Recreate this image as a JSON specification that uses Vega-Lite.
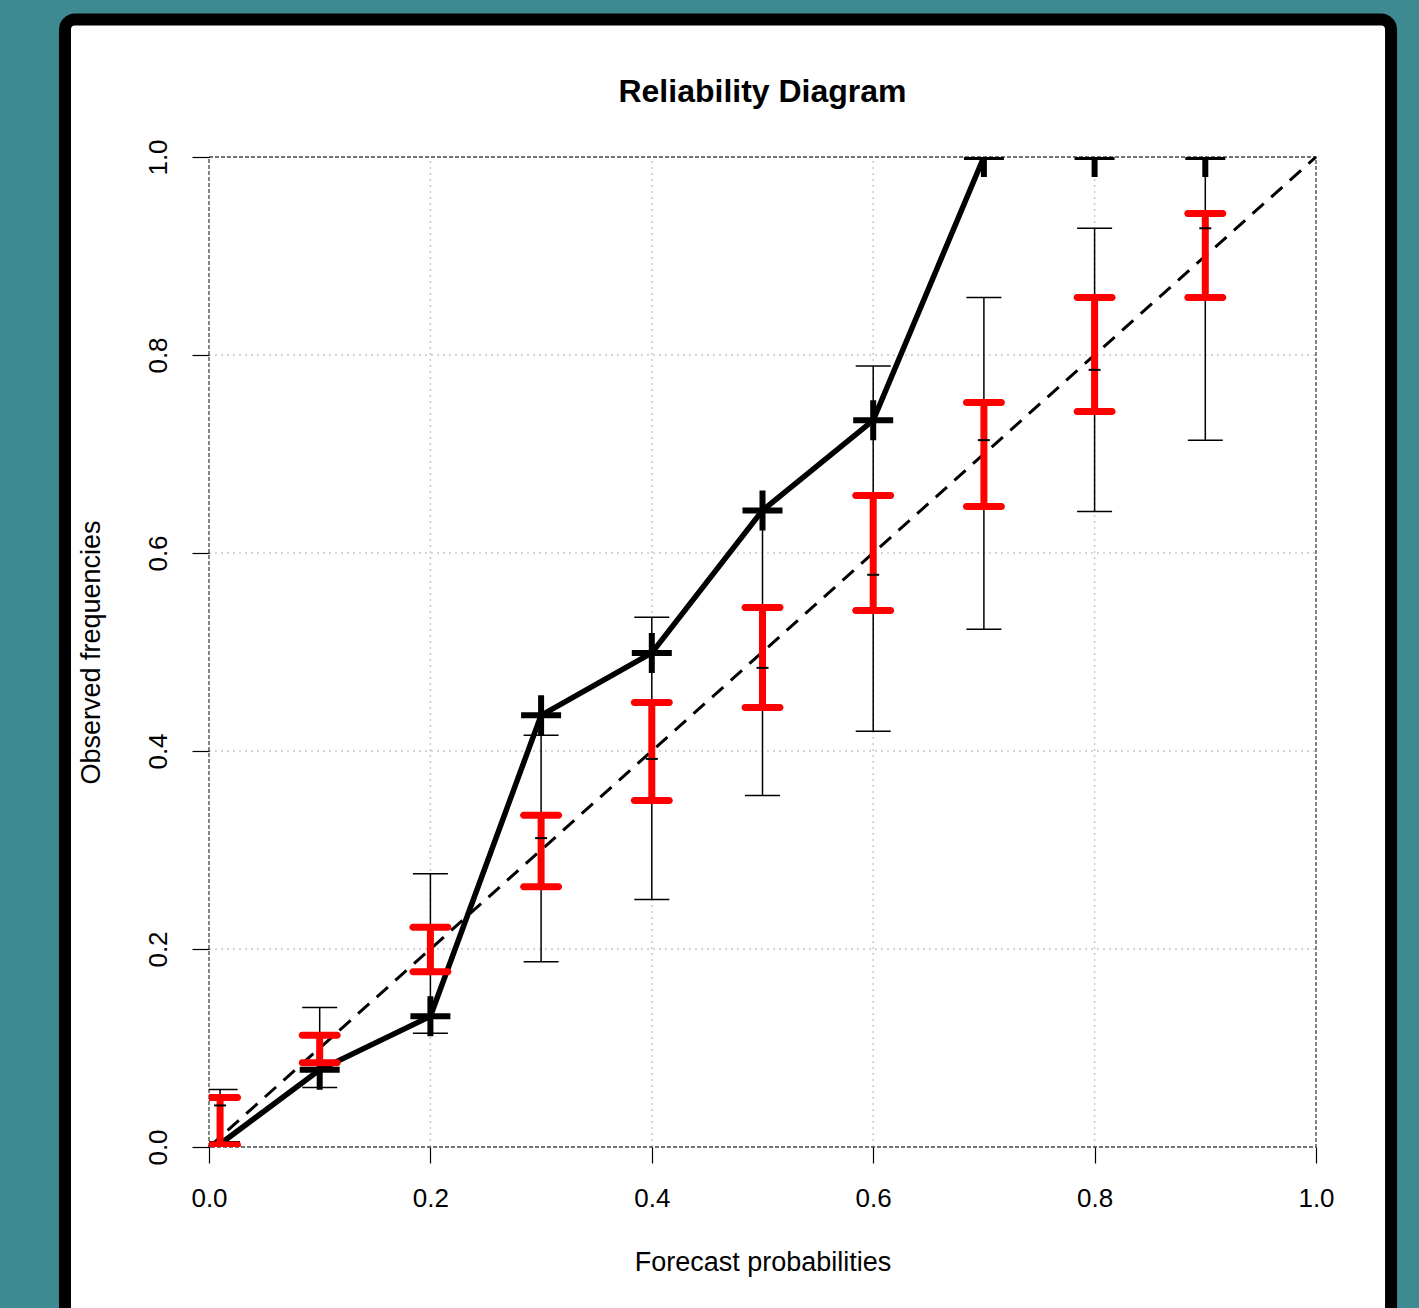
{
  "$schema": "https://vega.github.io/schema/vega-lite/v6.json",
  "width": 1107,
  "height": 990,
  "autosize": {"type": "none"},
  "padding": {"left": 209, "top": 157, "right": 103, "bottom": 161},
  "background": "#3e8a92",
  "config": {
    "view": {"stroke": null},
    "font": "Liberation Sans"
  },
  "title": {
    "text": "Reliability Diagram",
    "fontSize": 32,
    "fontWeight": "bold",
    "font": "Liberation Sans",
    "color": "black",
    "anchor": "middle",
    "frame": "group",
    "baseline": "bottom",
    "offset": -128
  },
  "datasets": {
    "bins": [
      {"p": 0.01, "obs": 0.003, "blo": 0.0, "bhi": 0.058, "rlo": 0.002, "rhi": 0.05, "mid": 0.042},
      {"p": 0.1, "obs": 0.078, "blo": 0.06, "bhi": 0.141, "rlo": 0.085, "rhi": 0.113, "mid": null},
      {"p": 0.2, "obs": 0.132, "blo": 0.115, "bhi": 0.276, "rlo": 0.177, "rhi": 0.222, "mid": null},
      {"p": 0.3, "obs": 0.436, "blo": 0.187, "bhi": 0.416, "rlo": 0.263, "rhi": 0.335, "mid": 0.312},
      {"p": 0.4, "obs": 0.499, "blo": 0.25, "bhi": 0.535, "rlo": 0.35, "rhi": 0.449, "mid": 0.392},
      {"p": 0.5, "obs": 0.643, "blo": 0.355, "bhi": 0.643, "rlo": 0.444, "rhi": 0.545, "mid": 0.484},
      {"p": 0.6, "obs": 0.734, "blo": 0.42, "bhi": 0.789, "rlo": 0.542, "rhi": 0.658, "mid": 0.578},
      {"p": 0.7, "obs": 1.0, "blo": 0.523, "bhi": 0.858, "rlo": 0.647, "rhi": 0.752, "mid": 0.714},
      {"p": 0.8, "obs": 1.0, "blo": 0.642, "bhi": 0.928, "rlo": 0.743, "rhi": 0.858, "mid": 0.785},
      {"p": 0.9, "obs": 1.0, "blo": 0.714, "bhi": 1.0, "rlo": 0.858, "rhi": 0.943, "mid": 0.928}
    ],
    "grid": [{"v": 0.2}, {"v": 0.4}, {"v": 0.6}, {"v": 0.8}]
  },
  "layer": [
    {
      "data": {"values": [{}]},
      "mark": {"type": "rect", "fill": "white", "stroke": "black", "strokeWidth": 12, "cornerRadius": 10, "clip": false},
      "encoding": {
        "x": {"datum": -0.1301, "type": "quantitative", "scale": {"domain": [0, 1], "nice": false},
          "axis": {"zindex": 2, "values": [0, 0.2, 0.4, 0.6, 0.8, 1.0], "format": ".1f", "domain": false, "grid": false,
            "tickColor": "black", "tickSize": 16, "tickWidth": 1.2, "labelFontSize": 26, "labelColor": "black",
            "labelPadding": 22, "labelFlush": false, "labelFont": "Liberation Sans",
            "title": "Forecast probabilities", "titleFontSize": 27, "titleFontWeight": "normal", "titleColor": "black",
            "titlePadding": 38, "titleFont": "Liberation Sans"}},
        "x2": {"datum": 1.0678},
        "y": {"datum": 1.1389, "type": "quantitative", "scale": {"domain": [0, 1], "nice": false},
          "axis": {"zindex": 2, "values": [0, 0.2, 0.4, 0.6, 0.8, 1.0], "format": ".1f", "domain": false, "grid": false,
            "tickColor": "black", "tickSize": 17, "tickWidth": 1.2, "labelFontSize": 26, "labelColor": "black",
            "labelAngle": -90, "labelPadding": 21, "labelFlush": false, "labelFont": "Liberation Sans",
            "title": "Observed frequencies", "titleFontSize": 27, "titleFontWeight": "normal", "titleColor": "black",
            "titlePadding": 40, "titleFont": "Liberation Sans"}},
        "y2": {"datum": -0.3}
      }
    },
    {
      "data": {"name": "grid"},
      "mark": {"type": "rule", "color": "#c8c8c8", "strokeWidth": 1.5, "strokeDash": [2, 4]},
      "encoding": {
        "x": {"field": "v", "type": "quantitative", "scale": {"domain": [0, 1], "nice": false}},
        "y": {"datum": 0, "type": "quantitative", "scale": {"domain": [0, 1], "nice": false}},
        "y2": {"datum": 1}
      }
    },
    {
      "data": {"name": "grid"},
      "mark": {"type": "rule", "color": "#c8c8c8", "strokeWidth": 1.5, "strokeDash": [2, 4]},
      "encoding": {
        "y": {"field": "v", "type": "quantitative", "scale": {"domain": [0, 1], "nice": false}},
        "x": {"datum": 0, "type": "quantitative", "scale": {"domain": [0, 1], "nice": false}},
        "x2": {"datum": 1}
      }
    },
    {
      "data": {"values": [{}]},
      "mark": {"type": "rect", "fillOpacity": 0, "stroke": "#444444", "strokeWidth": 1.3, "strokeDash": [4, 2]},
      "encoding": {
        "x": {"datum": 0, "type": "quantitative", "scale": {"domain": [0, 1], "nice": false}},
        "x2": {"datum": 1},
        "y": {"datum": 0, "type": "quantitative", "scale": {"domain": [0, 1], "nice": false}},
        "y2": {"datum": 1}
      }
    },
    {
      "data": {"values": [{}]},
      "mark": {"type": "rule", "color": "black", "strokeWidth": 3, "strokeDash": [15, 10]},
      "encoding": {
        "x": {"datum": 0, "type": "quantitative", "scale": {"domain": [0, 1], "nice": false}},
        "y": {"datum": 0, "type": "quantitative", "scale": {"domain": [0, 1], "nice": false}},
        "x2": {"datum": 1},
        "y2": {"datum": 1}
      }
    },
    {
      "data": {"name": "bins"},
      "mark": {"type": "rule", "color": "black", "strokeWidth": 1.5, "clip": true},
      "encoding": {
        "x": {"field": "p", "type": "quantitative", "scale": {"domain": [0, 1], "nice": false}},
        "y": {"field": "blo", "type": "quantitative", "scale": {"domain": [0, 1], "nice": false}},
        "y2": {"field": "bhi"}
      }
    },
    {
      "data": {"name": "bins"},
      "mark": {"type": "tick", "orient": "horizontal", "color": "black", "size": 35, "thickness": 1.5, "opacity": 1, "clip": true},
      "encoding": {
        "x": {"field": "p", "type": "quantitative", "scale": {"domain": [0, 1], "nice": false}},
        "y": {"field": "blo", "type": "quantitative", "scale": {"domain": [0, 1], "nice": false}}
      }
    },
    {
      "data": {"name": "bins"},
      "mark": {"type": "tick", "orient": "horizontal", "color": "black", "size": 35, "thickness": 1.5, "opacity": 1, "clip": true},
      "encoding": {
        "x": {"field": "p", "type": "quantitative", "scale": {"domain": [0, 1], "nice": false}},
        "y": {"field": "bhi", "type": "quantitative", "scale": {"domain": [0, 1], "nice": false}}
      }
    },
    {
      "data": {"name": "bins"},
      "transform": [{"filter": "datum.p <= 0.7"}],
      "mark": {"type": "line", "color": "black", "strokeWidth": 5.5, "clip": true},
      "encoding": {
        "x": {"field": "p", "type": "quantitative", "scale": {"domain": [0, 1], "nice": false}},
        "y": {"field": "obs", "type": "quantitative", "scale": {"domain": [0, 1], "nice": false}}
      }
    },
    {
      "data": {"name": "bins"},
      "mark": {"type": "point", "shape": "M-1,0H1M0,-1V1", "size": 1600, "filled": false, "color": "black", "strokeWidth": 6, "opacity": 1, "clip": true},
      "encoding": {
        "x": {"field": "p", "type": "quantitative", "scale": {"domain": [0, 1], "nice": false}},
        "y": {"field": "obs", "type": "quantitative", "scale": {"domain": [0, 1], "nice": false}}
      }
    },
    {
      "data": {"name": "bins"},
      "mark": {"type": "rule", "color": "#ff0000", "strokeWidth": 7, "clip": true},
      "encoding": {
        "x": {"field": "p", "type": "quantitative", "scale": {"domain": [0, 1], "nice": false}},
        "y": {"field": "rlo", "type": "quantitative", "scale": {"domain": [0, 1], "nice": false}},
        "y2": {"field": "rhi"}
      }
    },
    {
      "data": {"name": "bins"},
      "mark": {"type": "tick", "orient": "horizontal", "color": "#ff0000", "size": 42, "thickness": 7, "cornerRadius": 3.5, "opacity": 1, "clip": true},
      "encoding": {
        "x": {"field": "p", "type": "quantitative", "scale": {"domain": [0, 1], "nice": false}},
        "y": {"field": "rlo", "type": "quantitative", "scale": {"domain": [0, 1], "nice": false}}
      }
    },
    {
      "data": {"name": "bins"},
      "mark": {"type": "tick", "orient": "horizontal", "color": "#ff0000", "size": 42, "thickness": 7, "cornerRadius": 3.5, "opacity": 1, "clip": true},
      "encoding": {
        "x": {"field": "p", "type": "quantitative", "scale": {"domain": [0, 1], "nice": false}},
        "y": {"field": "rhi", "type": "quantitative", "scale": {"domain": [0, 1], "nice": false}}
      }
    },
    {
      "data": {"name": "bins"},
      "mark": {"type": "tick", "orient": "horizontal", "color": "black", "size": 12, "thickness": 2, "opacity": 1, "clip": true},
      "encoding": {
        "x": {"field": "p", "type": "quantitative", "scale": {"domain": [0, 1], "nice": false}},
        "y": {"field": "mid", "type": "quantitative", "scale": {"domain": [0, 1], "nice": false}}
      }
    }
  ]
}
